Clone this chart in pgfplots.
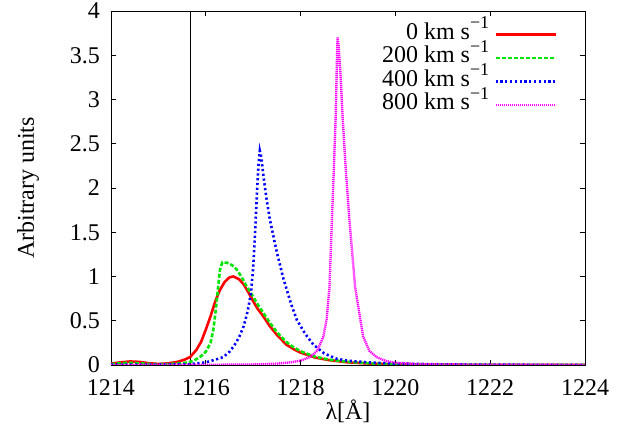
\documentclass[border=0pt]{standalone}
\usepackage{pgfplots}
\pgfplotsset{compat=1.18}
\usepackage{fontspec}
\setmainfont{Liberation Serif}
\definecolor{gpred}{RGB}{255,0,0}
\definecolor{gpgreen}{RGB}{0,230,0}
\definecolor{gpblue}{RGB}{0,0,255}
\definecolor{gpmag}{RGB}{255,0,255}
\newcommand{\supx}[1]{\raisebox{0.45em}{\fontsize{18bp}{18bp}\selectfont #1}}
\begin{document}
\fontsize{24bp}{28bp}\selectfont
\begin{tikzpicture}
\useasboundingbox (-111bp,-69bp) rectangle (514bp,365bp);
\begin{axis}[
  scale only axis, width=474bp, height=354bp,
  xmin=1214, xmax=1224, ymin=0, ymax=4,
  xtick={1214,1216,...,1224}, ytick={0,0.5,...,4},
  /pgf/number format/assume math mode=true,
  /pgf/number format/set thousands separator={},
  tick align=inside, major tick length=5bp,
  every tick/.style={black, line width=0.6bp},
  axis line style={black, line width=0.8bp},
  xticklabel style={yshift=-6bp},
  yticklabel style={xshift=-3bp},
  xlabel={λ[Å]}, ylabel={Arbitrary units},
  xlabel style={at={(axis description cs:0.5,-0.13)}, anchor=center},
  ylabel style={at={(axis description cs:-0.175,0.5)}, anchor=center},
  legend cell align=right,
  legend plot pos=right,
  legend image code/.code={\draw[#1] (0bp,0bp) -- (60bp,0bp);},
  legend style={at={(axis description cs:0.941,0.967)}, anchor=north east,
    draw=none, fill=none, inner sep=0pt, row sep=0bp, column sep=4bp,
    nodes={inner sep=1bp, text height=15.5bp, text depth=6bp}},
]
\addplot[black, line width=0.6bp, forget plot] coordinates {(1215.67,0) (1215.67,4)};
% 0 km/s
\addplot[gpred, line width=2.6bp] coordinates {
(1214.0,0.015) (1214.2,0.03) (1214.4,0.04) (1214.6,0.035) (1214.8,0.02) (1215.0,0.012)
(1215.2,0.018) (1215.4,0.035) (1215.55,0.06) (1215.67,0.09) (1215.8,0.17) (1215.9,0.26)
(1216.0,0.40) (1216.1,0.55) (1216.2,0.72) (1216.3,0.85) (1216.4,0.94) (1216.5,0.99)
(1216.58,1.0) (1216.7,0.97) (1216.8,0.91) (1216.9,0.82) (1217.0,0.72) (1217.1,0.63)
(1217.2,0.56) (1217.35,0.44) (1217.5,0.34) (1217.7,0.23) (1217.85,0.18) (1218.0,0.14)
(1218.3,0.085) (1218.6,0.055) (1219.0,0.03) (1219.5,0.015) (1220,0.008) (1221,0.003)
(1222,0.001) (1224,0.0)};
\addlegendentry{0 km s\supx{−1}}
% 200 km/s
\addplot[gpgreen, line width=2.6bp, dash pattern=on 4bp off 2bp] coordinates {
(1214.0,0.01) (1214.2,0.02) (1214.4,0.025) (1214.6,0.02) (1214.8,0.012) (1215.0,0.008)
(1215.2,0.01) (1215.5,0.02) (1215.67,0.035) (1215.8,0.065) (1215.9,0.10) (1216.0,0.15)
(1216.1,0.25) (1216.16,0.40) (1216.21,0.62) (1216.26,0.88) (1216.3,1.08) (1216.35,1.16)
(1216.45,1.155) (1216.55,1.13) (1216.65,1.08) (1216.75,1.0) (1216.85,0.9) (1217.0,0.77)
(1217.1,0.68) (1217.2,0.60) (1217.35,0.48) (1217.5,0.37) (1217.7,0.26) (1217.85,0.20)
(1218.0,0.155) (1218.3,0.095) (1218.6,0.06) (1219.0,0.035) (1219.5,0.018) (1220,0.01)
(1221,0.004) (1222,0.002) (1224,0.0)};
\addlegendentry{200 km s\supx{−1}}
% 400 km/s
\addplot[gpblue, line width=2.6bp, dash pattern=on 2.2bp off 2.6bp] coordinates {
(1214.0,0.005) (1215.0,0.005) (1215.67,0.01) (1216.0,0.03) (1216.2,0.06) (1216.37,0.09)
(1216.5,0.15) (1216.6,0.22) (1216.7,0.31) (1216.8,0.44) (1216.88,0.6) (1216.95,0.8)
(1217.0,1.1) (1217.04,1.5) (1217.08,1.95) (1217.11,2.25) (1217.14,2.42) (1217.17,2.35) (1217.22,2.12) (1217.28,1.88)
(1217.35,1.65) (1217.42,1.47) (1217.5,1.27) (1217.64,0.97) (1217.8,0.69) (1217.92,0.51)
(1218.1,0.35) (1218.27,0.23) (1218.5,0.13) (1218.76,0.07) (1219.0,0.048) (1219.5,0.027)
(1220,0.016) (1221,0.007) (1222,0.003) (1224,0.001)};
\addlegendentry{400 km s\supx{−1}}
% 800 km/s
\addplot[gpmag, line width=2.4bp, dash pattern=on 1.2bp off 0.8bp] coordinates {
(1214.0,0.0) (1216.0,0.002) (1217.0,0.006) (1217.5,0.015) (1217.8,0.03) (1218.0,0.05)
(1218.2,0.09) (1218.35,0.16) (1218.48,0.32) (1218.55,0.52) (1218.61,0.88) (1218.66,1.64)
(1218.7,2.2) (1218.74,2.8) (1218.765,3.4) (1218.78,3.7) (1218.8,3.62) (1218.84,3.3)
(1218.89,2.77) (1218.96,2.15) (1219.03,1.64) (1219.15,0.88) (1219.32,0.32) (1219.45,0.16)
(1219.6,0.09) (1219.8,0.045) (1220.0,0.025) (1220.5,0.01) (1221,0.005) (1222,0.002)
(1224,0.0)};
\addlegendentry{800 km s\supx{−1}}
\end{axis}
\end{tikzpicture}
\end{document}
